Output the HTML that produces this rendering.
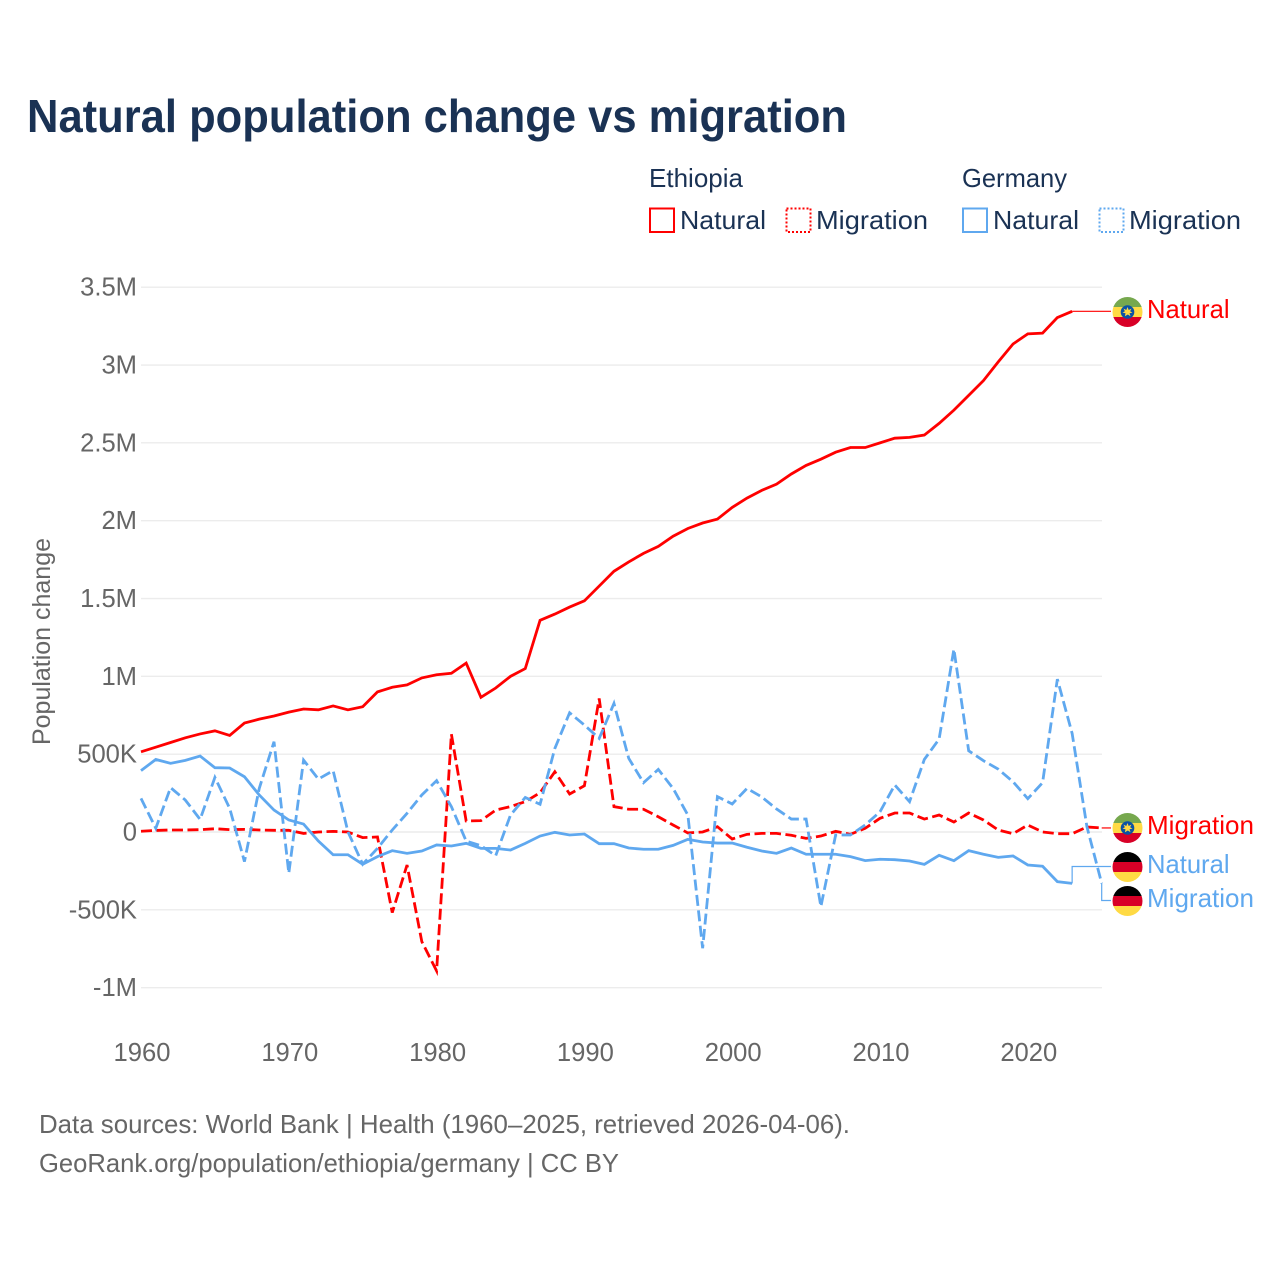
<!DOCTYPE html>
<html lang="en">
<head>
<meta charset="utf-8">
<title>Natural population change vs migration</title>
<style>
html,body{margin:0;padding:0;background:#fff;}
svg{display:block;font-family:"Liberation Sans",sans-serif;}
</style>
</head>
<body>
<svg id="chart" xmlns="http://www.w3.org/2000/svg" width="1280" height="1280" viewBox="0 0 1280 1280">
  <rect width="1280" height="1280" fill="#ffffff"/>
  <text x="27" y="132" font-size="46" font-weight="700" fill="#1a3254" textLength="820" lengthAdjust="spacingAndGlyphs">Natural population change vs migration</text>

  <g font-size="25.6" fill="#1a3254">
    <text x="649" y="187" textLength="94" lengthAdjust="spacingAndGlyphs">Ethiopia</text>
    <text x="962" y="187" textLength="105" lengthAdjust="spacingAndGlyphs">Germany</text>
    <rect x="650" y="208.500" width="24" height="23.500" fill="none" stroke="#ff0000" stroke-width="2"/>
    <text x="680" y="229" textLength="86" lengthAdjust="spacingAndGlyphs">Natural</text>
    <rect x="786.500" y="208.500" width="24" height="23.500" fill="none" stroke="#ff0000" stroke-width="2" stroke-dasharray="2 2"/>
    <text x="816" y="229" textLength="112" lengthAdjust="spacingAndGlyphs">Migration</text>
    <rect x="963" y="208.500" width="24" height="23.500" fill="none" stroke="#5fa8ef" stroke-width="2"/>
    <text x="993" y="229" textLength="86" lengthAdjust="spacingAndGlyphs">Natural</text>
    <rect x="1099.500" y="208.500" width="24" height="23.500" fill="none" stroke="#5fa8ef" stroke-width="2" stroke-dasharray="2 2"/>
    <text x="1129" y="229" textLength="112" lengthAdjust="spacingAndGlyphs">Migration</text>
  </g>

  <g id="grid"></g>
  <g id="yticks" font-size="25.6" fill="#666666" text-anchor="end"></g>
  <g id="xticks" font-size="25.6" fill="#666666" text-anchor="middle"></g>
  <text transform="translate(50,745) rotate(-90)" font-size="25" fill="#666666" textLength="207" lengthAdjust="spacingAndGlyphs">Population change</text>

  <g id="leaders" fill="none" stroke-width="1.200"></g>
  <g id="series" fill="none" stroke-width="2.800" stroke-linejoin="miter"></g>

  <defs>
    <clipPath id="flag-clip"><circle cx="0" cy="0" r="15"/></clipPath>
  </defs>

  <g>
    <g transform="translate(1127.500,312)">
      <g clip-path="url(#flag-clip)">
        <rect x="-15" y="-15" width="30" height="10" fill="#76a84e"/>
        <rect x="-15" y="-5" width="30" height="10" fill="#ffda44"/>
        <rect x="-15" y="5" width="30" height="10" fill="#d80027"/>
      </g>
      <circle r="6.800" fill="#0a52a5"/>
      <polygon fill="#ffda44" points="0,-5 1.200,-2 4,-3.400 2.600,-0.800 5,0.600 2,1.300 3,4.200 0.300,2.500 -2.600,4.300 -2,1.300 -5,0.600 -2.600,-0.800 -4,-3.400 -1.200,-2"/>
    </g>
    <text x="1147" y="318" font-size="25.6" fill="#ff0000">Natural</text>
  </g>
  <g>
    <g transform="translate(1127.500,828)">
      <g clip-path="url(#flag-clip)">
        <rect x="-15" y="-15" width="30" height="10" fill="#76a84e"/>
        <rect x="-15" y="-5" width="30" height="10" fill="#ffda44"/>
        <rect x="-15" y="5" width="30" height="10" fill="#d80027"/>
      </g>
      <circle r="6.800" fill="#0a52a5"/>
      <polygon fill="#ffda44" points="0,-5 1.200,-2 4,-3.400 2.600,-0.800 5,0.600 2,1.300 3,4.200 0.300,2.500 -2.600,4.300 -2,1.300 -5,0.600 -2.600,-0.800 -4,-3.400 -1.200,-2"/>
    </g>
    <text x="1147" y="834" font-size="25.6" fill="#ff0000" textLength="107" lengthAdjust="spacingAndGlyphs">Migration</text>
  </g>
  <g>
    <g transform="translate(1127.500,867)" clip-path="url(#flag-clip)">
      <rect x="-15" y="-15" width="30" height="10" fill="#000000"/>
      <rect x="-15" y="-5" width="30" height="10" fill="#d80027"/>
      <rect x="-15" y="5" width="30" height="10" fill="#ffda44"/>
    </g>
    <text x="1147" y="873" font-size="25.6" fill="#5fa8ef">Natural</text>
  </g>
  <g>
    <g transform="translate(1127.500,901)" clip-path="url(#flag-clip)">
      <rect x="-15" y="-15" width="30" height="10" fill="#000000"/>
      <rect x="-15" y="-5" width="30" height="10" fill="#d80027"/>
      <rect x="-15" y="5" width="30" height="10" fill="#ffda44"/>
    </g>
    <text x="1147" y="907" font-size="25.6" fill="#5fa8ef" textLength="107" lengthAdjust="spacingAndGlyphs">Migration</text>
  </g>

  <text x="39" y="1133" font-size="25.6" fill="#666666" textLength="811" lengthAdjust="spacingAndGlyphs">Data sources: World Bank | Health (1960–2025, retrieved 2026-04-06).</text>
  <text x="39" y="1172" font-size="25.6" fill="#666666" textLength="580" lengthAdjust="spacingAndGlyphs">GeoRank.org/population/ethiopia/germany | CC BY</text>
</svg>

<script>
// Data, in thousands of people per year
const years = [1960,1961,1962,1963,1964,1965,1966,1967,1968,1969,
  1970,1971,1972,1973,1974,1975,1976,1977,1978,1979,
  1980,1981,1982,1983,1984,1985,1986,1987,1988,1989,
  1990,1991,1992,1993,1994,1995,1996,1997,1998,1999,
  2000,2001,2002,2003,2004,2005,2006,2007,2008,2009,
  2010,2011,2012,2013,2014,2015,2016,2017,2018,2019,
  2020,2021,2022,2023,2024,2025];
const ethiopiaNatural = [515,545,575,605,630,650,620,700,725,745,
  770,790,785,810,785,805,900,930,945,990,
  1010,1020,1085,865,925,1000,1050,1360,1400,1445,
  1485,1580,1675,1735,1790,1835,1900,1950,1985,2010,
  2085,2145,2195,2235,2300,2355,2395,2440,2470,2470,
  2500,2530,2535,2550,2625,2710,2805,2900,3020,3135,
  3200,3205,3305,3345,null,null];
const ethiopiaMigration = [5,10,13,13,15,21,15,17,13,11,
  11,-9,0,4,0,-36,-32,-518,-212,-704,
  -892,629,71,73,141,163,195,252,387,244,
  297,858,163,146,146,98,45,-6,0,34,
  -45,-15,-9,-9,-21,-41,-26,4,-15,24,
  88,122,122,83,109,64,122,77,13,-11,
  45,0,-11,-11,32,26];
const germanyNatural = [394,466,441,460,488,413,411,355,238,141,
  77,51,-58,-146,-146,-207,-158,-120,-137,-122,
  -83,-90,-73,-105,-105,-116,-73,-26,-2,-19,
  -13,-75,-75,-103,-111,-111,-86,-47,-64,-71,
  -71,-98,-122,-137,-103,-143,-143,-143,-158,-184,
  -175,-178,-186,-208,-150,-184,-120,-143,-163,-154,
  -212,-220,-319,-330,null,null];
const germanyMigration = [216,24,285,205,81,351,152,-190,280,580,
  -265,462,340,394,2,-207,-105,13,120,238,
  330,163,-58,-88,-152,109,222,178,537,766,
  687,601,826,473,317,402,280,109,-747,227,
  180,280,225,148,83,83,-479,-19,-19,45,
  130,302,195,466,597,1175,522,458,404,323,
  214,317,982,633,34,-330];
const yTickValues = [3500,3000,2500,2000,1500,1000,500,0,-500,-1000];
const yTickLabels = ['3.5M','3M','2.5M','2M','1.5M','1M','500K','0','-500K','-1M'];
const xTickYears = [1960,1970,1980,1990,2000,2010,2020];

const NS = 'http://www.w3.org/2000/svg';
const RED = '#ff0000';
const BLUE = '#5fa8ef';
function xScale(year) { return 141 + (year - 1960) * (1101.7 - 141) / 65; }
function yScale(value) { return 832 - value * (832 - 287.2) / 3500; }
function make(tag, parent) {
  const el = document.createElementNS(NS, tag);
  parent.appendChild(el);
  return el;
}
function linePath(values) {
  let d = '';
  values.forEach(function (v, i) {
    if (v === null) return;
    d += (d ? 'L' : 'M') + xScale(years[i]).toFixed(2) + ' ' + yScale(v).toFixed(2);
  });
  return d;
}
function lastPoint(values) {
  for (let i = values.length - 1; i >= 0; i--) {
    if (values[i] !== null) return { x: xScale(years[i]), y: yScale(values[i]) };
  }
  return { x: 0, y: 0 };
}

const gridG = document.getElementById('grid');
const yG = document.getElementById('yticks');
yTickValues.forEach(function (v, i) {
  const rule = make('line', gridG);
  
  
  rule.setAttribute('x1', 141);
  rule.setAttribute('x2', 1102);
  rule.setAttribute('y1', yScale(v));
  rule.setAttribute('y2', yScale(v));
  rule.setAttribute('stroke', '#ececec');
  rule.setAttribute('stroke-width', 1.4);
  const label = make('text', yG);
  
  
  label.setAttribute('x', 137);
  label.setAttribute('y', yScale(v) + 8.5);
  label.textContent = yTickLabels[i];
});

const xG = document.getElementById('xticks');
xTickYears.forEach(function (yr) {
  const label = make('text', xG);
  
  
  label.setAttribute('x', xScale(yr) + 1);
  label.setAttribute('y', 1061);
  label.textContent = yr;
});

const seriesG = document.getElementById('series');

const lineEthNat = make('path', seriesG);


lineEthNat.setAttribute('d', linePath(ethiopiaNatural));
lineEthNat.setAttribute('stroke', RED);

const lineEthMig = make('path', seriesG);


lineEthMig.setAttribute('d', linePath(ethiopiaMigration));
lineEthMig.setAttribute('stroke', RED);
lineEthMig.setAttribute('stroke-dasharray', '11 4.500');

const lineGerNat = make('path', seriesG);


lineGerNat.setAttribute('d', linePath(germanyNatural));
lineGerNat.setAttribute('stroke', BLUE);

const lineGerMig = make('path', seriesG);


lineGerMig.setAttribute('d', linePath(germanyMigration));
lineGerMig.setAttribute('stroke', BLUE);
lineGerMig.setAttribute('stroke-dasharray', '11 4.500');

const leadersG = document.getElementById('leaders');

const p1 = lastPoint(ethiopiaNatural);
const leaderEthNat = make('path', leadersG);


leaderEthNat.setAttribute('d', 'M' + p1.x + ' ' + p1.y + 'H1111');
leaderEthNat.setAttribute('stroke', RED);

const p2 = lastPoint(ethiopiaMigration);
const leaderEthMig = make('path', leadersG);


leaderEthMig.setAttribute('d', 'M' + p2.x + ' ' + p2.y + 'H1111');
leaderEthMig.setAttribute('stroke', RED);

const p3 = lastPoint(germanyNatural);
const leaderGerNat = make('path', leadersG);


leaderGerNat.setAttribute('d', 'M' + p3.x + ' ' + p3.y + 'V866.500H1111');
leaderGerNat.setAttribute('stroke', BLUE);

const p4 = lastPoint(germanyMigration);
const leaderGerMig = make('path', leadersG);


leaderGerMig.setAttribute('d', 'M' + p4.x + ' ' + p4.y + 'V900.500H1111');
leaderGerMig.setAttribute('stroke', BLUE);
</script>
</body>
</html>
